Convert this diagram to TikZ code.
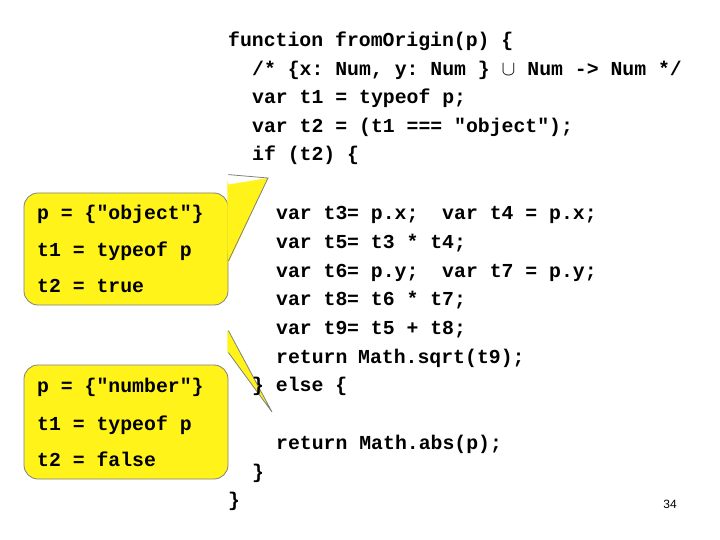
\documentclass[tikz,border=0pt]{standalone}
\usepackage{fontspec}
\setmonofont{Liberation Mono}
\setsansfont{Liberation Sans}
\begin{document}
\begin{tikzpicture}[x=1pt,y=-1pt,
  code/.style={anchor=base west,inner sep=0pt,font=\ttfamily\bfseries\fontsize{19.8}{20}\selectfont},
  note/.style={fill=yellow!90!white,draw=gray,line width=0.8pt}]
\useasboundingbox (0,0) rectangle (720,540);
% callouts
\node[note,rounded corners=14,minimum width=204,minimum height=112,inner sep=0pt] (c1) at (126,249) {};
\node[note,rounded corners=14,minimum width=204,minimum height=114,inner sep=0pt] (c2) at (126,422) {};
\coordinate (t1) at (268,178);
\coordinate (t2) at (272,412);
\fill[yellow!90!white] ([yshift=8]c1.north east) -- (t1) -- ([yshift=-14]c1.east) -- ([xshift=-1]c1.east) -- ([xshift=-1,yshift=12]c1.north east) -- cycle;
\draw[gray,line width=0.8pt] ([yshift=18]c1.north east) -- (t1) -- ([yshift=-12]c1.east);
\fill[yellow!90!white] ([yshift=12]c2.north east) -- (t2) -- ([yshift=34]c2.north east) -- ([xshift=-1,yshift=34]c2.north east) -- ([xshift=-1,yshift=12]c2.north east) -- cycle;
\draw[gray,line width=0.8pt] ([yshift=12]c2.north east) -- (t2) -- ([yshift=34]c2.north east);
\node[code] (n1) at (37,220) {p = \{"object"\}};
\node[code] (n2) at (37,256) {t1 = typeof p};
\node[code] (n3) at (37,292) {t2 = true};
\node[code] (n4) at (37,392) {p = \{"number"\}};
\node[code] (n5) at (37,430) {t1 = typeof p};
\node[code] (n6) at (37,466) {t2 = false};
% code
\node[code] (l1) at (228,47) {function fromOrigin(p) \{};
\node[code] (l2) at (252,76) {/* \{x: Num, y: Num \} $\cup$ Num -> Num */};
\node[code] (l3) at (252,104) {var t1 = typeof p;};
\node[code] (l4) at (252,133) {var t2 = (t1 === "object");};
\node[code] (l5) at (252,161) {if (t2) \{};
\node[code] (a1) at (276,219) {var t3};
\node[code] (a2) at (276,248) {var t5};
\node[code] (a3) at (276,277) {var t6};
\node[code] (a4) at (276,305) {var t8};
\node[code] (a5) at (276,334) {var t9};
\node[code] (a6) at (276,363) {return};
\node[code] (b1) at (347,219) {= p.x;~ var t4 = p.x;};
\node[code] (b2) at (347,248) {= t3 * t4;};
\node[code] (b3) at (347,277) {= p.y;~ var t7 = p.y;};
\node[code] (b4) at (347,305) {= t6 * t7;};
\node[code] (b5) at (347,334) {= t5 + t8;};
\node[code] (b6) at (358,363) {Math.sqrt(t9);};
\node[code] (e1) at (252,391) {\} else \{};
\node[code] (e2) at (276,449) {return Math.abs(p);};
\node[code] (e3) at (252,478) {\}};
\node[code] (e4) at (228,506) {\}};
\node[anchor=base,inner sep=0pt,font=\sffamily\fontsize{12}{14}\selectfont] (pg) at (670,508) {34};
\end{tikzpicture}
\end{document}
